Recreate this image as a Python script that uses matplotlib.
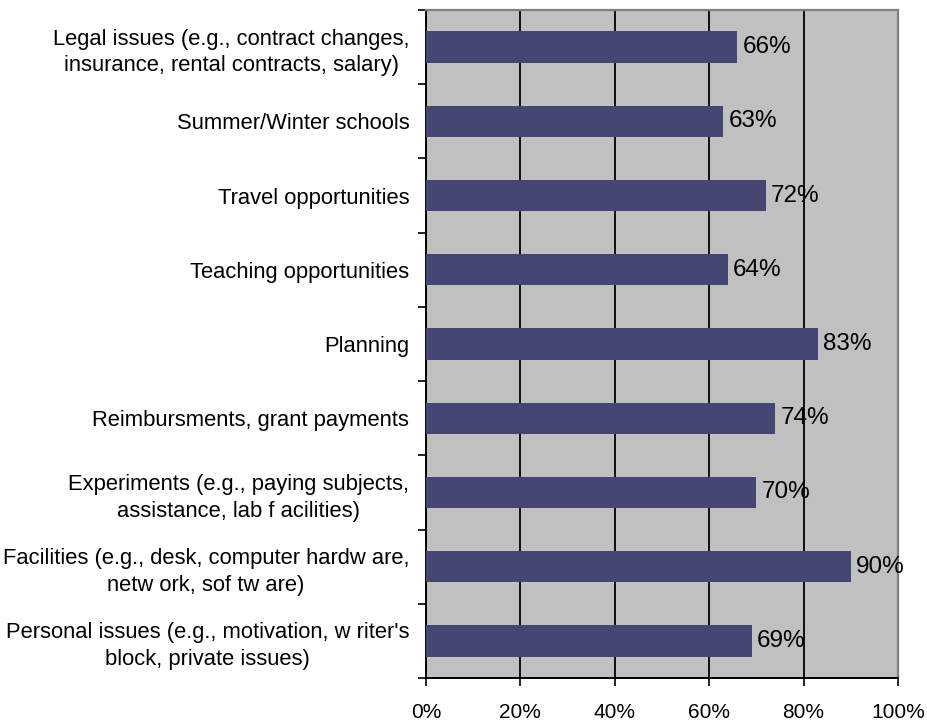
import matplotlib.pyplot as plt
import numpy as np

plt.rcParams['font.family'] = ['Liberation Sans', 'DejaVu Sans']

# categories listed top to bottom
categories = [
    "Legal issues (e.g., contract changes,\ninsurance, rental contracts, salary)",
    "Summer/Winter schools",
    "Travel opportunities",
    "Teaching opportunities",
    "Planning",
    "Reimbursments, grant payments",
    "Experiments (e.g., paying subjects,\nassistance, lab f acilities)",
    "Facilities (e.g., desk, computer hardw are,\nnetw ork, sof tw are)",
    "Personal issues (e.g., motivation, w riter's\nblock, private issues)",
]
values = [66, 63, 72, 64, 83, 74, 70, 90, 69]
xticks = [0, 20, 40, 60, 80, 100]

fig = plt.figure(figsize=(9.27, 7.22), dpi=100)
ax = fig.add_axes([0.4595, 0.0609, 0.5092, 0.9253])

n = len(categories)
y = np.arange(n)[::-1]
ax.barh(y, values, height=0.42, color='#464673', zorder=3)

for yi, v in zip(y, values):
    ax.text(v + 1.1, yi, f"{v}%", va='center', ha='left', fontsize=17.5, zorder=4)

ax.set_facecolor('#C0C0C0')
ax.set_xlim(0, 100)
ax.set_ylim(-0.5, n - 0.5)

ax.set_xticks(xticks)
ax.set_xticklabels([f"{t}%" for t in xticks], fontsize=15)
ax.tick_params(axis='x', direction='out', length=6, width=1.2, pad=12)
ax.xaxis.grid(True, color='black', linewidth=1.3, zorder=1)

ax.set_yticks(y)
ax.set_yticklabels(categories, fontsize=15.8)
for lbl in ax.get_yticklabels():
    lbl.set_multialignment('center')
    lbl.set_linespacing(1.35)
ax.tick_params(axis='y', which='major', length=0, pad=12)
ax.set_yticks(np.arange(n + 1) - 0.5, minor=True)
ax.tick_params(axis='y', which='minor', direction='out', length=6, width=1.2)

ax.spines['left'].set_color('black')
ax.spines['left'].set_linewidth(1.4)
ax.spines['bottom'].set_color('black')
ax.spines['bottom'].set_linewidth(1.4)
ax.spines['right'].set_color('#808080')
ax.spines['right'].set_linewidth(1.6)
ax.spines['top'].set_color('#808080')
ax.spines['top'].set_linewidth(1.6)

plt.savefig('out.png', dpi=100)
